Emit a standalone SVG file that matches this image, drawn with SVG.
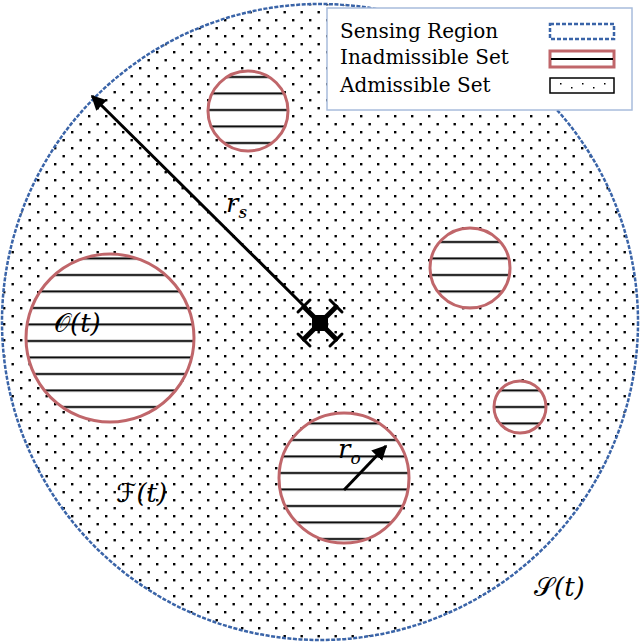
<svg xmlns="http://www.w3.org/2000/svg" width="640" height="644" viewBox="0 0 640 644">
<style>
.obs{fill:url(#hatch);stroke:#c0666a;stroke-width:3}
.t{font-family:"DejaVu Serif","Liberation Serif",serif;font-style:italic;font-size:26px;fill:#000}
.lg{font-family:"DejaVu Serif","Liberation Serif",serif;font-size:20px;fill:#000}
</style>
<defs>
<pattern id="dots" width="17" height="16" patternUnits="userSpaceOnUse">
<rect x="3" y="3" width="2.4" height="2.4" fill="#000"/>
<rect x="11.5" y="11" width="2.4" height="2.4" fill="#000"/>
</pattern>
<pattern id="hatch" width="20" height="16.5" patternUnits="userSpaceOnUse" y="3">
<rect width="20" height="16.5" fill="#fff"/>
<line x1="0" y1="8" x2="20" y2="8" stroke="#000" stroke-width="2"/>
</pattern>
<marker id="ah" viewBox="0 0 10 10" refX="9" refY="5" markerWidth="5" markerHeight="5" orient="auto-start-reverse"><path d="M0,0L10,5L0,10z" fill="#000"/></marker>
</defs>
<rect width="640" height="644" fill="#fff"/>
<g id="sensing"><circle cx="320" cy="322" r="318" fill="url(#dots)" stroke="#3a64a8" stroke-width="2.5" stroke-dasharray="4,1.5"/></g>
<g id="obstacles">
<circle id="o1" class="obs" cx="248" cy="111" r="40"/>
<circle id="o2" class="obs" cx="110" cy="338" r="84"/>
<circle id="o3" class="obs" cx="470" cy="268" r="40"/>
<circle id="o4" class="obs" cx="520" cy="407" r="26"/>
<circle id="o5" class="obs" cx="344" cy="478" r="65"/>
</g>
<g id="connectors" stroke="#000" stroke-width="3">
<line x1="306" y1="308" x2="92" y2="96" marker-end="url(#ah)"/>
<line x1="344" y1="490" x2="386" y2="446" marker-end="url(#ah)"/>
</g>
<g id="drone" stroke="#000" stroke-linecap="round">
<line x1="304" y1="307" x2="336" y2="339" stroke-width="5"/>
<line x1="336" y1="307" x2="304" y2="339" stroke-width="5"/>
<rect x="312" y="315" width="16" height="16" fill="#000" stroke="none"/>
<g stroke-width="3">
<line x1="298" y1="312" x2="310" y2="300"/><line x1="330" y1="300" x2="342" y2="312"/>
<line x1="298" y1="334" x2="310" y2="346"/><line x1="330" y1="346" x2="342" y2="334"/>
</g>
</g>
<g id="labels">
<text class="t" x="226" y="212">r<tspan font-size="17" dy="6">s</tspan></text>
<text class="t" x="338" y="458">r<tspan font-size="17" dy="6">o</tspan></text>
<text class="t" x="54" y="332"><tspan font-style="normal" font-family="DejaVu Sans,sans-serif">𝒪</tspan>(t)</text>
<text class="t" x="116" y="502"><tspan font-style="normal" font-family="DejaVu Sans,sans-serif">ℱ</tspan>(t)</text>
<text class="t" x="534" y="596"><tspan font-style="normal" font-family="DejaVu Sans,sans-serif">𝒮</tspan>(t)</text>
</g>
<g id="legend">
<rect x="327" y="8" width="305" height="102" fill="#fff" stroke="#a8bcdc" stroke-width="1.5"/>
<text class="lg" x="340" y="38">Sensing Region</text>
<text class="lg" x="340" y="64">Inadmissible Set</text>
<text class="lg" x="340" y="92">Admissible Set</text>
<rect x="550" y="24" width="64" height="15" fill="none" stroke="#3a64a8" stroke-width="2.5" stroke-dasharray="4,2"/>
<rect x="550" y="51" width="64" height="16" fill="#fff" stroke="#c0666a" stroke-width="3"/>
<line x1="551" y1="59" x2="613" y2="59" stroke="#000" stroke-width="2"/>
<rect x="550" y="78" width="64" height="15" fill="#fff" stroke="#000" stroke-width="1.5"/>
<g fill="#000"><rect x="560" y="83" width="1.5" height="1.5"/><rect x="571" y="87" width="1.5" height="1.5"/><rect x="582" y="83" width="1.5" height="1.5"/><rect x="593" y="87" width="1.5" height="1.5"/><rect x="604" y="83" width="1.5" height="1.5"/></g>
</g>
</svg>
